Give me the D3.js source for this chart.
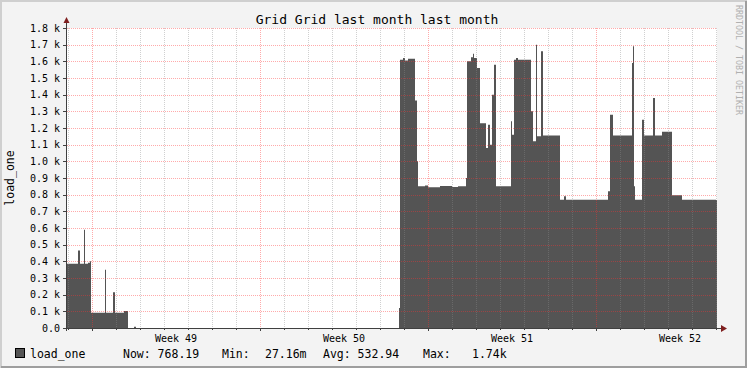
<!DOCTYPE html>
<html>
<head>
<meta charset="utf-8">
<script src="https://cdn.jsdelivr.net/npm/d3@7"></script>
<style>
  body { margin: 0; background: #f3f3f3; }
  svg { display: block; font-family: "DejaVu Sans Mono", monospace; }
</style>
</head>
<body>
<svg width="747" height="368"></svg>
<script>
// hours since the start of the graph (Sat 29 Nov 2014 23:00 UTC) and load at each step
const hours = [0, 11, 13, 17, 18, 21, 23, 24, 38, 39, 46, 48, 57, 61, 67, 69,
  332, 333, 336, 338, 341, 348, 350, 351, 358, 361, 373, 385, 391,
  399, 400, 404, 406, 407, 410, 413, 419, 421, 423, 425, 427, 429,
  444, 445, 447, 449, 451, 464, 466, 469, 470, 474, 476,
  493, 497, 499, 541, 543, 546, 565, 566, 567, 568, 575, 577, 586, 588, 595, 605, 615, 649];
const load = [385, 465, 385, 590, 385, 392, 400, 92, 350, 92, 215, 92, 102, 0, 8, 0,
  120, 1610, 1620, 1605, 1615, 1365, 1000, 850, 855, 845, 852, 846, 850,
  900, 1600, 1625, 1645, 1620, 1560, 1228, 1080, 1220, 1100, 1400, 1580, 850,
  1240, 1160, 1610, 1620, 1610, 1300, 1120, 1700, 1150, 1660, 1155,
  770, 790, 770, 820, 1280, 1155, 1590, 1690, 850, 770, 1250, 1155, 1380, 1155, 1178, 796, 770, 768];

const yTicks = d3.range(0, 1801, 100);
const legendStats = [
  { text: "Now: 768.19", x: 123 },
  { text: "Min:", x: 222 },
  { text: "27.16m", x: 265 },
  { text: "Avg: 532.94", x: 323 },
  { text: "Max:", x: 423 },
  { text: "1.74k", x: 472 }
];

const svg = d3.select("svg");
const width = +svg.attr("width");
const height = +svg.attr("height");

const start = new Date(Date.UTC(2014, 10, 29, 23));
const end = d3.utcHour.offset(start, 650);

const plotLeft = 67, plotRight = 717, plotTop = 28, plotBottom = 328;

const x = d3.scaleUtc().domain([start, end]).range([plotLeft, plotRight]);
const y = d3.scaleLinear().domain([0, 1800]).range([plotBottom, plotTop]);

const data = hours.map((h, i) => ({ t: d3.utcHour.offset(start, h), v: load[i] }));
data.push({ t: end, v: load[load.length - 1] });

// frame
svg.append("rect").attr("width", width).attr("height", height).attr("fill", "#f3f3f3");
svg.append("path").attr("d", `M1,${height} V1 H${width}`).attr("fill", "none")
  .attr("stroke", "#cfcfcf").attr("stroke-width", 2);
svg.append("path").attr("d", `M1,${height - 1} H${width - 1} V1`).attr("fill", "none")
  .attr("stroke", "#9e9e9e").attr("stroke-width", 2);

// canvas
svg.append("rect")
  .attr("x", plotLeft).attr("y", plotTop)
  .attr("width", plotRight - plotLeft).attr("height", plotBottom - plotTop)
  .attr("fill", "#fff");

// area
const area = d3.area()
  .x(d => x(d.t))
  .y0(y(0))
  .y1(d => y(d.v))
  .curve(d3.curveStepAfter);

svg.append("path").datum(data)
  .attr("d", area)
  .attr("fill", "#545454");

// grid, drawn over the area like rrdtool does
const days = d3.utcDay.range(start, end).filter(d => d.getUTCDay() !== 1);
const weeks = d3.utcMonday.range(start, end);

const grid = svg.append("g").attr("shape-rendering", "crispEdges");

grid.selectAll(".minor").data(days).join("line")
  .attr("x1", d => Math.round(x(d)) + 0.5).attr("x2", d => Math.round(x(d)) + 0.5)
  .attr("y1", plotTop).attr("y2", plotBottom)
  .attr("stroke", "rgba(137,137,137,0.4)")
  .attr("stroke-dasharray", "1,1");

grid.selectAll(".hgrid").data(yTicks.slice(1)).join("line")
  .attr("x1", plotLeft).attr("x2", plotRight)
  .attr("y1", d => Math.round(y(d)) + 0.5).attr("y2", d => Math.round(y(d)) + 0.5)
  .attr("stroke", "rgba(255,49,49,0.41)")
  .attr("stroke-dasharray", "1,1");

grid.selectAll(".major").data(weeks).join("line")
  .attr("x1", d => Math.round(x(d)) + 0.5).attr("x2", d => Math.round(x(d)) + 0.5)
  .attr("y1", plotTop).attr("y2", plotBottom)
  .attr("stroke", "rgba(255,49,49,0.41)")
  .attr("stroke-dasharray", "1,1");

// axes lines
const axisColor = "#404040";
svg.append("line")
  .attr("x1", plotLeft - 0.5).attr("x2", plotLeft - 0.5)
  .attr("y1", plotBottom + 3).attr("y2", plotTop - 6)
  .attr("stroke", axisColor);
svg.append("line")
  .attr("x1", plotLeft - 4).attr("x2", plotRight + 5)
  .attr("y1", plotBottom + 0.5).attr("y2", plotBottom + 0.5)
  .attr("stroke", axisColor);
svg.append("path")
  .attr("d", `M${plotLeft - 3.5},${plotTop - 5} L${plotLeft + 2.5},${plotTop - 5} L${plotLeft - 0.5},${plotTop - 11} Z`)
  .attr("fill", "#7f1f1f");
svg.append("path")
  .attr("d", `M${plotRight + 4},${plotBottom - 3} L${plotRight + 4},${plotBottom + 4} L${plotRight + 10},${plotBottom + 0.5} Z`)
  .attr("fill", "#7f1f1f");

// y ticks and labels
svg.selectAll(".ytick").data(yTicks).join("line")
  .attr("x1", plotLeft - 4).attr("x2", plotLeft)
  .attr("y1", d => Math.round(y(d)) + 0.5).attr("y2", d => Math.round(y(d)) + 0.5)
  .attr("stroke", axisColor);

svg.selectAll(".ylabel").data(yTicks).join("text")
  .attr("x", 60)
  .attr("y", d => y(d) + 3.5)
  .attr("text-anchor", "end")
  .attr("font-size", 10)
  .attr("fill", "#000")
  .text(d => d === 0 ? "0.0" : d3.format(".1f")(d / 1000) + " k");

// x ticks
svg.selectAll(".xtick").data(d3.utcDay.range(start, end)).join("line")
  .attr("x1", d => Math.round(x(d)) + 0.5).attr("x2", d => Math.round(x(d)) + 0.5)
  .attr("y1", plotBottom).attr("y2", plotBottom + 2)
  .attr("stroke", axisColor);
svg.selectAll(".xmtick").data(weeks).join("line")
  .attr("x1", d => Math.round(x(d)) + 0.5).attr("x2", d => Math.round(x(d)) + 0.5)
  .attr("y1", plotBottom).attr("y2", plotBottom + 3)
  .attr("stroke", axisColor);

svg.selectAll(".xlabel").data(weeks).join("text")
  .attr("x", d => x(d3.utcHour.offset(d, 84)))
  .attr("y", 342)
  .attr("text-anchor", "middle")
  .attr("font-size", 10)
  .attr("fill", "#000")
  .text(d => "Week " + d3.utcFormat("%V")(d));

// title and axis label
svg.append("text")
  .attr("x", 377).attr("y", 24)
  .attr("text-anchor", "middle")
  .attr("font-size", 13)
  .attr("fill", "#000")
  .text("Grid Grid last month last month");

svg.append("text")
  .attr("transform", `translate(14, 178) rotate(-90)`)
  .attr("text-anchor", "middle")
  .attr("font-size", 11.5)
  .attr("fill", "#000")
  .text("load_one");

svg.append("text")
  .attr("transform", `translate(736, 5) rotate(90)`)
  .attr("font-size", 8.3)
  .attr("fill", "#b0b0b0")
  .text("RRDTOOL / TOBI OETIKER");

// legend
svg.append("rect")
  .attr("x", 15.5).attr("y", 348.5)
  .attr("width", 9).attr("height", 9)
  .attr("fill", "#545454")
  .attr("stroke", "#000");

svg.append("text")
  .attr("x", 30).attr("y", 358)
  .attr("font-size", 11.5)
  .attr("fill", "#000")
  .text("load_one");

svg.selectAll(".stat").data(legendStats).join("text")
  .attr("x", d => d.x).attr("y", 358)
  .attr("font-size", 11.5)
  .attr("fill", "#000")
  .text(d => d.text);
</script>
</body>
</html>
